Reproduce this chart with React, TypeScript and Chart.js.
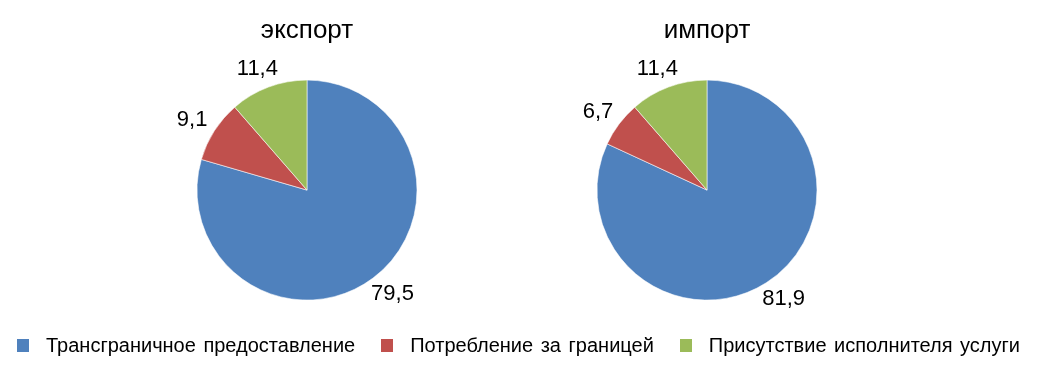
import React, { useEffect, useRef } from 'react';
import { Chart, registerables } from 'chart.js';

Chart.register(...registerables);

const categories = ['Трансграничное предоставление', 'Потребление за границей', 'Присутствие исполнителя услуги'];
const exportValues = [79.5, 9.1, 11.4];
const importValues = [81.9, 6.7, 11.4];
const chartTitles = ['экспорт', 'импорт'];
const sliceColors = ['#4F81BD', '#C0504D', '#9BBB59'];

const FONT = '"Liberation Sans", Arial, sans-serif';

const outsideLabels = {
  id: 'outsideLabels',
  afterDatasetsDraw(chart: any) {
    const ctx = chart.ctx;
    const meta = chart.getDatasetMeta(0);
    const data = chart.data.datasets[0].data as number[];
    ctx.save();
    ctx.font = `22px ${FONT}`;
    ctx.fillStyle = '#000';
    ctx.textAlign = 'center';
    ctx.textBaseline = 'middle';
    meta.data.forEach((arc: any, i: number) => {
      const p = arc.getProps(['x', 'y', 'startAngle', 'endAngle', 'outerRadius'], true);
      const a = (p.startAngle + p.endAngle) / 2;
      const txt = data[i].toFixed(1).replace('.', ',');
      const w = ctx.measureText(txt).width;
      const h = 17;
      const gap = 11;
      const cx = p.x + Math.cos(a) * (p.outerRadius + gap) + Math.cos(a) * w / 2;
      const cy = p.y + Math.sin(a) * (p.outerRadius + gap) + Math.sin(a) * h / 2;
      ctx.fillText(txt, cx, cy);
    });
    ctx.restore();
  },
};

function PieChart({ title, values, left }: { title: string; values: number[]; left: number }) {
  const ref = useRef<HTMLCanvasElement | null>(null);
  useEffect(() => {
    if (!ref.current) return;
    const chart = new Chart(ref.current, {
      type: 'pie',
      data: {
        labels: categories,
        datasets: [
          {
            data: values,
            backgroundColor: sliceColors,
            borderColor: 'rgba(255,255,255,0.7)',
            borderWidth: 0.8,
            radius: 110,
          } as any,
        ],
      },
      options: {
        responsive: false,
        maintainAspectRatio: false,
        animation: false,
        layout: { padding: { top: 0, bottom: 48, left: 0, right: 0 } },
        plugins: {
          legend: { display: false },
          tooltip: { enabled: false },
          title: {
            display: true,
            text: title,
            color: '#000',
            font: { family: FONT, size: 26, weight: 'normal' },
            padding: { top: 15, bottom: 8 },
          },
        },
      },
      plugins: [outsideLabels],
    });
    return () => chart.destroy();
  }, [title, values]);
  return (
    <canvas
      ref={ref}
      width={400}
      height={374}
      style={{ position: 'absolute', left, top: 0, width: 400, height: 374 }}
    />
  );
}

export default function App() {
  return (
    <div style={{ position: 'absolute', left: 0, top: 0, width: 1038, height: 374, background: '#fff' }}>
      <PieChart title={chartTitles[0]} values={exportValues} left={107} />
      <PieChart title={chartTitles[1]} values={importValues} left={507} />
      <div
        style={{
          position: 'absolute',
          left: 17,
          top: 333,
          display: 'flex',
          alignItems: 'center',
          fontFamily: FONT,
          fontSize: 20,
          wordSpacing: 2,
          color: '#000',
          whiteSpace: 'nowrap',
          height: 24,
        }}
      >
        {categories.map((c, i) => (
          <div key={c} style={{ display: 'flex', alignItems: 'center', marginRight: 26 }}>
            <span style={{ display: 'inline-block', width: 12, height: 13, background: sliceColors[i], marginRight: 17 }} />
            <span>{c}</span>
          </div>
        ))}
      </div>
    </div>
  );
}
